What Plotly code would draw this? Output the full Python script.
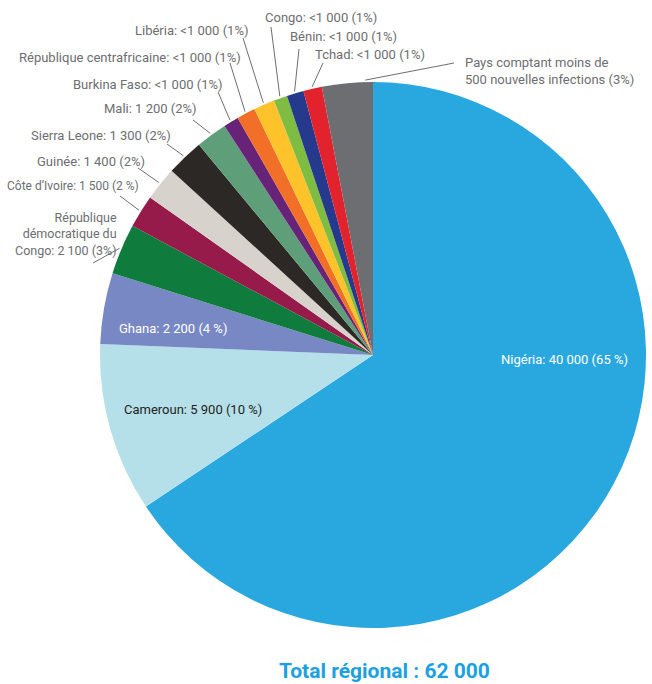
import math
import plotly.graph_objects as go

W, H = 652, 684

# Data (estimated shares, %)
countries = ["Nigéria", "Cameroun", "Ghana", "République démocratique du Congo",
             "Côte d'Ivoire", "Guinée", "Sierra Leone", "Mali", "Burkina Faso",
             "République centrafricaine", "Libéria", "Congo", "Bénin", "Tchad",
             "Pays comptant moins de 500 nouvelles infections"]
shares = [65.6, 10.0, 4.2, 3.0, 1.95, 2.0, 2.2, 1.85, 0.9, 1.1, 1.25, 0.8, 1.0, 1.1, 3.0]
label_texts = ["Nigéria: 40 000 (65 %)", "Cameroun: 5 900 (10 %)", "Ghana: 2 200 (4 %)",
               "République<br>démocratique du<br>Congo: 2 100 (3%)",
               "Côte d’Ivoire: 1 500 (2 %)", "Guinée: 1 400 (2%)", "Sierra Leone: 1 300 (2%)",
               "Mali: 1 200 (2%)", "Burkina Faso: <1 000 (1%)",
               "République centrafricaine: <1 000 (1%)", "Libéria: <1 000 (1%)",
               "Congo: <1 000 (1%)", "Bénin: <1 000 (1%)", "Tchad: <1 000 (1%)",
               "Pays comptant moins de<br>500 nouvelles infections (3%)"]
colors = ["#29a8e0", "#b5dfe9", "#7788c4", "#0f7b3c", "#961a4a", "#d8d2cc", "#2b2825",
          "#5e9e78", "#662378", "#f26f28", "#fec22b", "#7fbd42", "#253a8d", "#e2222c",
          "#6d6e71"]
total_text = "Total régional : 62 000"

# Layout (pixel positions)
CX, CY, R = 373, 355, 273
FONT = "Roboto, sans-serif"
GRAY = "#6d6e71"

def X(px):
    return px / W

def Y(py):
    return 1 - py / H

fig = go.Figure(go.Pie(
    labels=countries, values=shares, sort=False, direction="clockwise", rotation=0,
    marker=dict(colors=colors, line=dict(width=0)), textinfo="none",
    hoverinfo="label+percent",
    domain=dict(x=[X(CX - R), X(CX + R)], y=[Y(CY + R), Y(CY - R)]),
))

# label placement: index -> (x, y, xanchor, color, align, font size, leader start (px) or None, leader pos in slice)
placements = {
    0: (499, 359, "left", "white", "left", 13, None, 0.5),
    1: (122, 409, "left", "#231f20", "left", 13, None, 0.5),
    2: (117, 328, "left", "white", "left", 13, None, 0.5),
    3: (119, 234, "right", GRAY, "right", 12.5, (93, 263), 0.5),
    4: (141, 186, "right", GRAY, "right", 12, (120, 196), 0.5),
    5: (147, 161, "right", GRAY, "right", 13, (138, 168), 0.5),
    6: (173, 135, "right", GRAY, "right", 13, (167, 144), 0.5),
    7: (199, 108, "right", GRAY, "right", 13, (193, 120), 0.5),
    8: (225, 85, "right", GRAY, "right", 13, (218, 92), 0.5),
    9: (243, 57, "right", GRAY, "right", 13, (230, 63), 0.5),
    10: (250, 31, "right", GRAY, "right", 13, (243, 38), 0.5),
    11: (263, 18, "left", GRAY, "left", 13, (271, 27), 0.5),
    12: (288, 37, "left", GRAY, "left", 13, (299, 49), 0.5),
    13: (313, 55, "left", GRAY, "left", 13, (323, 63), 0.5),
    14: (463, 71, "left", GRAY, "left", 13, (454, 63), 0.85),
}

tot = sum(shares)
cum = 0.0
shapes = []
annotations = []
for i, v in enumerate(shares):
    x, y, xa, col, al, fs, start, frac = placements[i]
    mid = (cum + v * frac) / tot * 2 * math.pi
    cum += v
    annotations.append(dict(
        x=X(x), y=Y(y), xref="paper", yref="paper", text=label_texts[i], showarrow=False,
        xanchor=xa, yanchor="middle", align=al,
        font=dict(family=FONT, size=fs, color=col)))
    if start is not None:
        ex = CX + (R + 2) * math.sin(mid)
        ey = CY - (R + 2) * math.cos(mid)
        shapes.append(dict(type="line", xref="paper", yref="paper",
                           x0=X(start[0]), y0=Y(start[1]), x1=X(ex), y1=Y(ey),
                           line=dict(color=GRAY, width=1)))

annotations.append(dict(
    x=X(384), y=Y(671), xref="paper", yref="paper", text="<b>" + total_text + "</b>",
    showarrow=False, xanchor="center", yanchor="middle",
    font=dict(family=FONT, size=21, color="#1ba1e2")))

fig.update_layout(
    width=W, height=H, margin=dict(l=0, r=0, t=0, b=0),
    paper_bgcolor="white", plot_bgcolor="white", showlegend=False,
    shapes=shapes, annotations=annotations,
)

fig.write_html("out.html")
